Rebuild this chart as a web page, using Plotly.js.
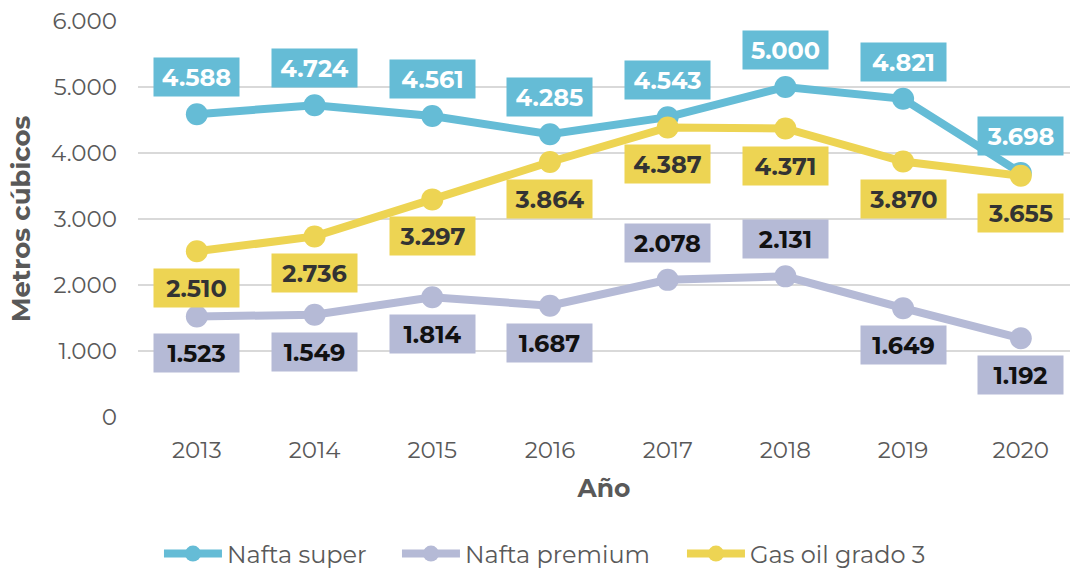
<!DOCTYPE html>
<html>
<head>
<meta charset="utf-8">
<script src="https://cdn.plot.ly/plotly-3.0.1.min.js"></script>
<style>html,body{margin:0;padding:0;background:#fff;}#chart{width:1070px;height:569px;}</style>
</head>
<body>
<div id="chart"></div>
<script>
var years = ['2013','2014','2015','2016','2017','2018','2019','2020'];
var naftaSuper = [4588, 4724, 4561, 4285, 4543, 5000, 4821, 3698];
var naftaPremium = [1523, 1549, 1814, 1687, 2078, 2131, 1649, 1192];
var gasOil = [2510, 2736, 3297, 3864, 4387, 4371, 3870, 3655];
// label placement: 1 = above, -1 = below
var superPos = [1, 1, 1, 1, 1, 1, 1, 1];
var premiumPos = [-1, -1, -1, -1, 1, 1, -1, -1];
var gasPos = [-1, -1, -1, -1, -1, -1, -1, -1];

var cSuper = '#65BCD6', cPremium = '#B5BAD6', cGas = '#EDD453';
var FONT = 'Montserrat, "Open Sans", sans-serif';

function fmt(v) { return String(v).replace(/\B(?=(\d{3})+(?!\d))/g, '.'); }

function trace(name, ys, color, lw) {
  return {
    type: 'scatter', mode: 'lines+markers', name: name,
    x: years, y: ys,
    line: {color: color, width: 8},
    marker: {color: color, size: 22},
    legendwidth: lw,
    hoverinfo: 'skip'
  };
}

var annotations = [];
function addLabels(ys, pos, bg, fg) {
  ys.forEach(function (v, i) {
    annotations.push({
      x: i, y: v, xref: 'x', yref: 'y',
      text: '<b>' + fmt(v) + '</b>', showarrow: false,
      yshift: pos[i] * 37,
      bgcolor: bg, width: 85, height: 38, borderpad: 0,
      font: {family: FONT, size: 24, color: fg}
    });
  });
}
addLabels(naftaSuper, superPos, cSuper, '#ffffff');
addLabels(naftaPremium, premiumPos, cPremium, '#111111');
addLabels(gasOil, gasPos, cGas, '#333333');

var data = [
  trace('Nafta super', naftaSuper, cSuper, 165),
  trace('Nafta premium', naftaPremium, cPremium, 212),
  trace('Gas oil grado 3', gasOil, cGas, undefined)
];

var layout = {
  width: 1070, height: 569,
  margin: {l: 138, r: 0, t: 21, b: 152, autoexpand: false},
  paper_bgcolor: '#ffffff', plot_bgcolor: '#ffffff',
  separators: ',.',
  font: {family: FONT, color: '#595959'},
  showlegend: true,
  legend: {
    orientation: 'h', x: 0.0225, xanchor: 'left', y: -0.346, yanchor: 'middle',
    itemwidth: 58,
    font: {family: FONT, size: 24, color: '#595959'}
  },
  xaxis: {
    type: 'category', range: [-0.5, 7.418], automargin: false,
    showgrid: false, zeroline: false, showline: false,
    tickfont: {family: FONT, size: 23, color: '#595959'},
    ticklabelstandoff: 17,
    title: {text: '<b>Año</b>', font: {family: FONT, size: 25, color: '#595959'}, standoff: 16}
  },
  yaxis: {
    range: [0, 6000], dtick: 1000, tickformat: ',d', automargin: false,
    showgrid: true, gridcolor: '#D9D9D9', gridwidth: 2,
    zeroline: false, showline: false,
    tickfont: {family: FONT, size: 23, color: '#595959'},
    ticklabelstandoff: 20,
    title: {text: '<b>Metros cúbicos</b>', font: {family: FONT, size: 26, color: '#595959'}, standoff: 12}
  },
  annotations: annotations
};

Plotly.newPlot('chart', data, layout, {displayModeBar: false});
</script>
</body>
</html>
